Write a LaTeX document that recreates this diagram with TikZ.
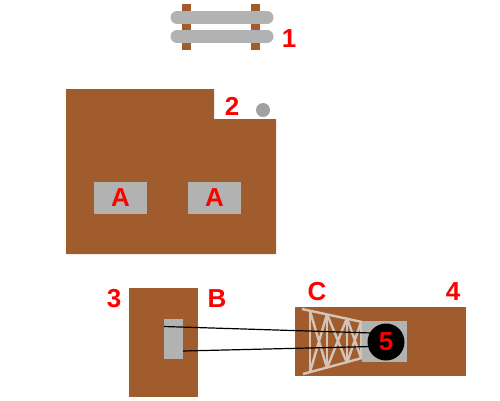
\documentclass[tikz,border=0pt]{standalone}
\usepackage{fontspec}
\setmainfont{Liberation Sans}
\definecolor{wood}{HTML}{A05C2C}
\definecolor{steel}{HTML}{B2B2B2}
\definecolor{trussc}{HTML}{D2C4B8}
\definecolor{lbl}{HTML}{FF0000}
\tikzset{
  x=1pt,y=-1pt,
  lab/.style={text=lbl,font=\bfseries\fontsize{26}{26}\selectfont,inner sep=0pt},
  plate/.style={fill=steel,minimum width=53pt,minimum height=32pt,inner sep=0pt,text=lbl,font=\bfseries\fontsize{26}{26}\selectfont},
  truss/.style={draw=trussc,line width=2.4pt},
  wire/.style={draw=black,line width=1.2pt}
}
\begin{document}
\begin{tikzpicture}
\useasboundingbox (0,0) rectangle (500,400);
\fill[wood] (182,4) rectangle (191,50);
\fill[wood] (251,4) rectangle (260,50);
\draw[draw=steel,line width=13pt,line cap=round] (177,17.5) -- (267,17.5);
\draw[draw=steel,line width=13pt,line cap=round] (177,36.5) -- (267,36.5);
\node[lab] (n1) at (289,39) {1};
\fill[wood] (66,89) -- (214,89) -- (214,119) -- (276,119) -- (276,254) -- (66,254) -- cycle;
\node[lab] (n2) at (232,106) {2};
\node[circle,fill=steel!90!black,minimum size=14pt,inner sep=0pt] (dot) at (263,110) {};
\node[plate] (a1) at (120.5,197.5) {A};
\node[plate] (a2) at (214.5,198) {A};
\fill[wood] (129,288) rectangle (198,397);
\node[fill=steel,minimum width=19pt,minimum height=40pt,inner sep=0pt] (b) at (173.5,339) {};
\node[lab] (n3) at (114,299) {3};
\node[lab] (nb) at (217,299) {B};
\node[lab] (nc) at (317,292) {C};
\node[lab] (n4) at (453,292) {4};
\fill[wood] (295,307) rectangle (466,376);
\fill[steel] (362,321) rectangle (407,362);
\draw[truss] (302,309) -- (362,322);
\draw[truss] (303,374) -- (362,358);
\draw[truss] (310,310) -- (310,372);
\draw[truss] (327,314) -- (327,368);
\draw[truss] (347,318) -- (347,363);
\draw[truss] (361,322) -- (361,358);
\draw[truss] (310,311) -- (327,368) (327,314) -- (310,372);
\draw[truss] (327,314) -- (347,363) (347,318) -- (327,368);
\draw[truss] (347,318) -- (361,358) (361,322) -- (347,363);
\node[circle,fill=black,minimum size=37pt,inner sep=0pt,text=lbl,font=\bfseries\fontsize{26}{26}\selectfont] (n5) at (386,342) {5};
\coordinate (w1) at (164,326.5);
\coordinate (w2) at (183,351);
\coordinate (w3) at (372,333);
\coordinate (w4) at (372,346.5);
\draw[wire] (w1) -- (w3);
\draw[wire] (w2) -- (w4);
\end{tikzpicture}
\end{document}
